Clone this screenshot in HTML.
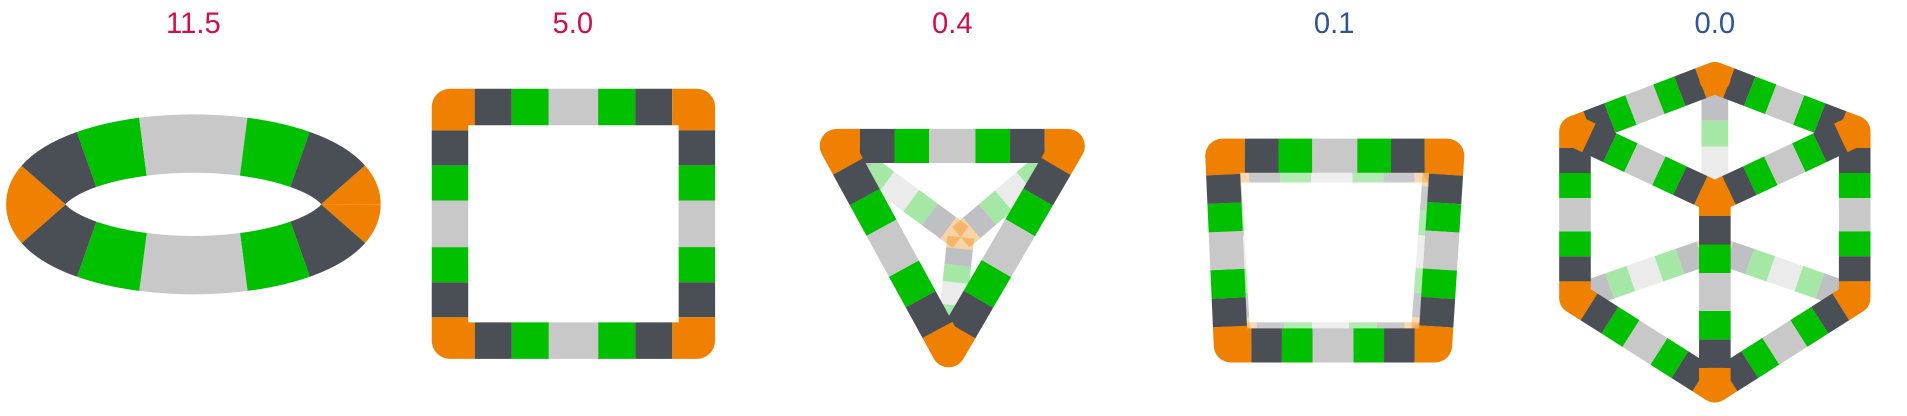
<!DOCTYPE html>
<html><head><meta charset="utf-8"><style>
html,body{margin:0;padding:0;background:#fff;width:1907px;height:416px;overflow:hidden}
svg{display:block}
</style></head><body>
<svg id="s" width="1907" height="416" viewBox="0 0 1568 342" preserveAspectRatio="none" xmlns="http://www.w3.org/2000/svg">
<g id="labels" font-family="Liberation Sans, DejaVu Sans, sans-serif" font-size="24" text-anchor="middle"></g>
<g id="mol"></g>
</svg>
<script>
const labels=["11.5","5.0","0.4","0.1","0.0"];
const labelX=[159,471,783,1097,1410];
const labelColors=["#d0104c","#d0104c","#d0104c","#2e5597","#2e5597"];
const NS="http://www.w3.org/2000/svg";
const lg=document.getElementById('labels'),mg=document.getElementById('mol');
labels.forEach((t,i)=>{const e=document.createElementNS(NS,'text');


e.setAttribute('x',labelX[i]);e.setAttribute('y',27);e.setAttribute('fill',labelColors[i]);e.textContent=t;lg.appendChild(e);});
const segs=[[0,.1,"#f08000"],[.1,.25,"#4a4e55"],[.25,.4,"#00c000"],[.4,.6,"#c8c8c8"],[.6,.75,"#00c000"],[.75,.9,"#4a4e55"],[.9,1,"#f08000"]];
function edge(a,b,w,op,name){const g=document.createElementNS(NS,'g');


g.setAttribute('opacity',op);
segs.forEach(s=>{const l=document.createElementNS(NS,'line');
l.setAttribute('x1',a[0]+(b[0]-a[0])*s[0]);l.setAttribute('y1',a[1]+(b[1]-a[1])*s[0]);
l.setAttribute('x2',a[0]+(b[0]-a[0])*s[1]);l.setAttribute('y2',a[1]+(b[1]-a[1])*s[1]);
l.setAttribute('stroke',s[2]);l.setAttribute('stroke-width',w);g.appendChild(l);});
mg.appendChild(g);}
function node(p,w,op){const c=document.createElementNS(NS,'circle');


c.setAttribute('cx',p[0]);c.setAttribute('cy',p[1]);c.setAttribute('r',w/2);c.setAttribute('fill','#f08000');c.setAttribute('opacity',op);mg.appendChild(c);}
function poly(pts,w,op,name,closed=true){const n=pts.length;for(let i=0;i<(closed?n:n-1);i++)edge(pts[i],pts[(i+1)%n],w,op,name+'-edge-'+i);pts.forEach(p=>node(p,w,op));}
function spokes(c,pts,w,op,name){pts.forEach((p,i)=>edge(p,c,w,op,name+'-spoke-'+i));}
// panel 1 ring (elliptical tube)
const ringSegs=[[0,3,"#f08000"],[3,10,"#4a4e55"],[10,18,"#00c000"],[18,32,"#c8c8c8"],[32,40,"#00c000"],[40,47,"#4a4e55"],[47,53,"#f08000"],[53,60,"#4a4e55"],[60,68,"#00c000"],[68,82,"#c8c8c8"],[82,90,"#00c000"],[90,97,"#4a4e55"],[97,100,"#f08000"]];
const ringG=document.createElementNS(NS,'g');


mg.appendChild(ringG);
ringSegs.forEach(s=>{const p=document.createElementNS(NS,'path');
p.setAttribute('d','M289,168 A130,50 0 0 1 29,168 A130,50 0 0 1 289,168');
p.setAttribute('pathLength','100');p.setAttribute('fill','none');
p.setAttribute('stroke',s[2]);p.setAttribute('stroke-width','48');
p.setAttribute('stroke-dasharray',(s[1]-s[0])+' '+(100-(s[1]-s[0])));
p.setAttribute('stroke-dashoffset',-s[0]);ringG.appendChild(p);});
// panel 2 square
poly([[370,88],[573,88],[573,280],[370,280]],30,1,'square');
// panel 3 triangle
const tri=[[688,120],[878,120],[780,288]];
spokes([790,195],tri,22,0.35,'triangle-back');
poly(tri,28,1,'triangle');
// panel 4 square
poly([[1010,140],[1180,140],[1170,275],[1018,275]],20,0.3,'square-back');
poly([[1005,128],[1190,128],[1180,284],[1012,284]],28,1,'square-front');
// panel 5 cube
const hex=[[1410,64],[1525,108],[1525,245],[1410,318],[1295,245],[1295,108]];
spokes([1410,205],[hex[0],hex[2],hex[4]],22,0.35,'cube-back');
poly(hex,26,1,'cube-hex');
spokes([1410,162],[hex[1],hex[3],hex[5]],26,1,'cube-front');
node([1410,162],26,1);
</script>
</body></html>
